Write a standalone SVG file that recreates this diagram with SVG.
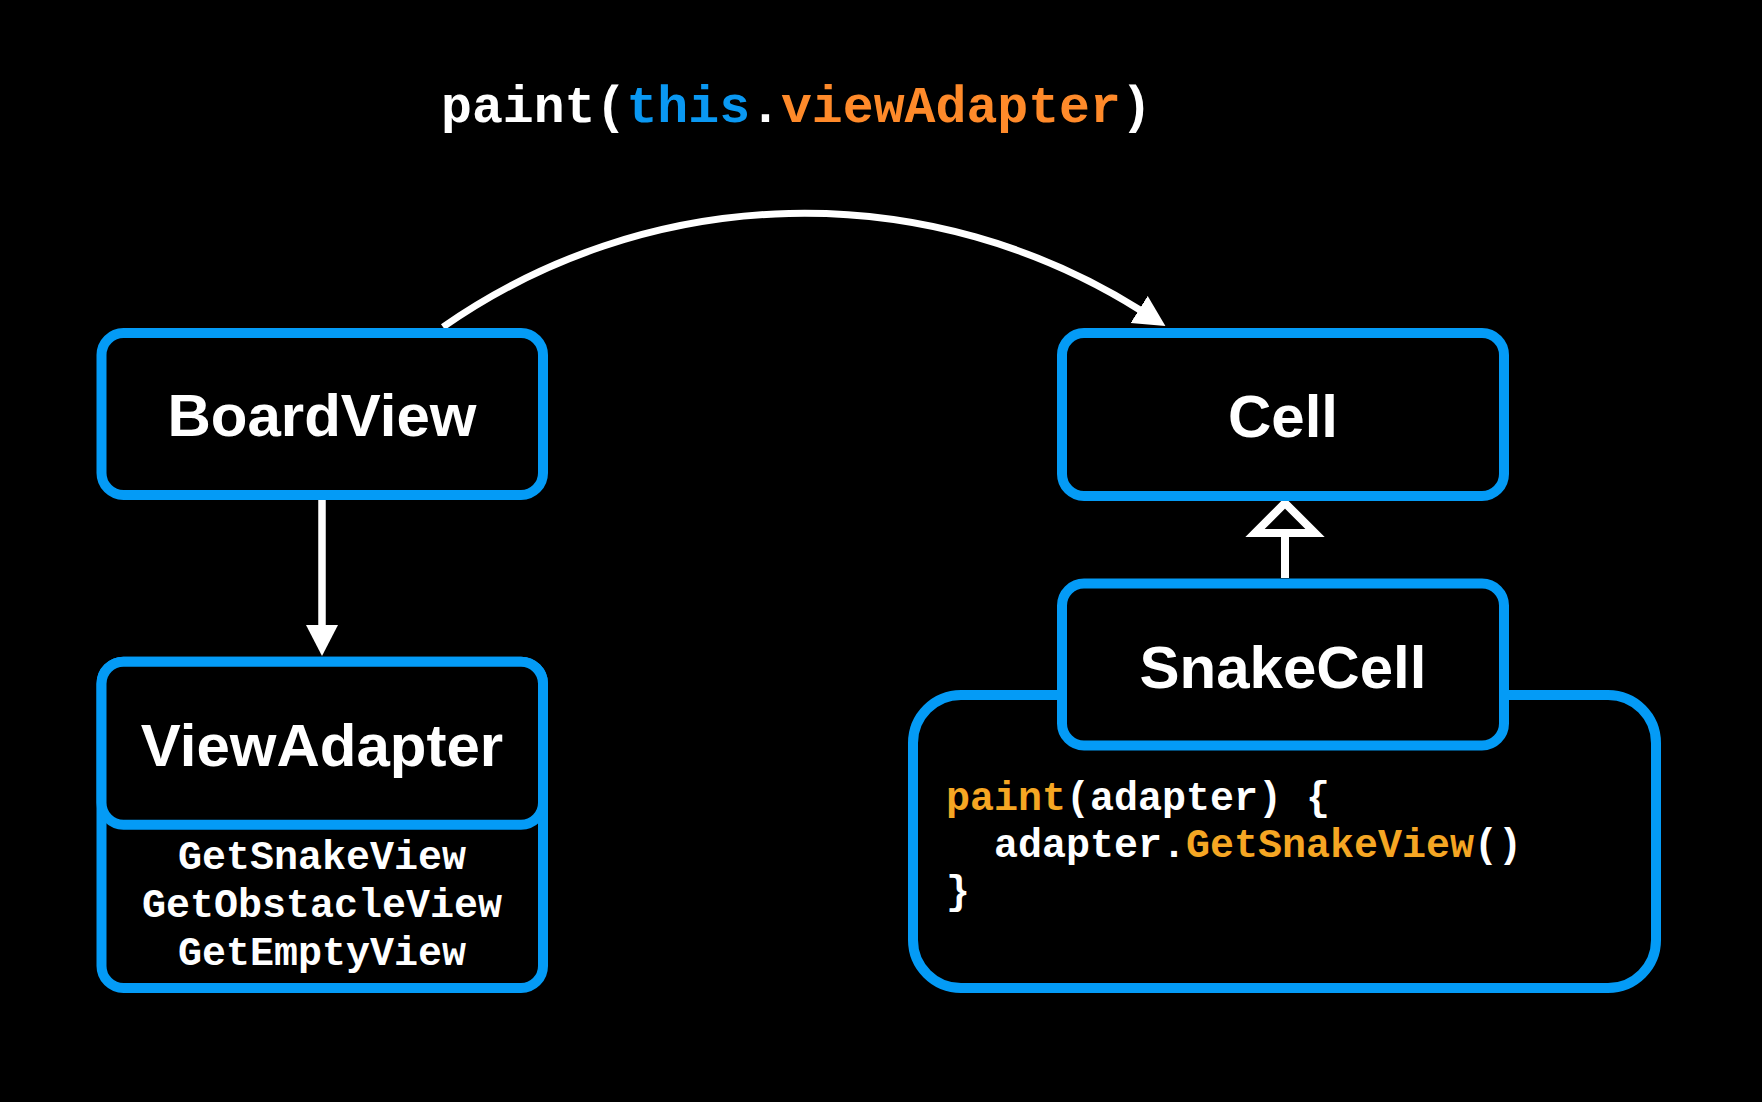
<svg xmlns="http://www.w3.org/2000/svg" width="1762" height="1102" viewBox="0 0 1762 1102">
<style>
.box{fill:#000;stroke:#049BF6;stroke-width:10}
.lbl{font-family:"Liberation Sans",Arial,sans-serif;font-weight:bold;font-size:60px;fill:#fff;text-anchor:middle}
.mono{font-family:"Liberation Mono","Courier New",monospace;font-weight:bold;fill:#fff}
.conn{fill:none;stroke:#fff}
.blue{fill:#0A98F2}
.org{fill:#FF8A2A}
.yel{fill:#F5A623}
</style>
<defs>
<marker id="arrow" markerUnits="userSpaceOnUse" markerWidth="33" markerHeight="33" refX="1" refY="16" orient="auto">
<path d="M0,0 L31,16 L0,32 z" fill="#fff"/>
</marker>
</defs>
<rect width="1762" height="1102" fill="#000"/>
<g id="title">
<text class="mono" x="441" y="122" font-size="51.5">paint(<tspan class="blue">this</tspan>.<tspan class="org">viewAdapter</tspan>)</text>
</g>
<g id="connectors">
<path class="conn" stroke-width="7" d="M443,327 A631,631 0 0,1 1140,310" marker-end="url(#arrow)"/>
<line class="conn" stroke-width="7.5" x1="322" y1="495" x2="322" y2="626" marker-end="url(#arrow)"/>
<line class="conn" stroke-width="8" x1="1285" y1="578" x2="1285" y2="533"/>
<polygon class="conn" stroke-width="8" points="1285,503 1315,533 1255,533"/>
</g>
<g id="BoardView">
<rect class="box" x="101.5" y="333" width="441.5" height="162" rx="22"/>
<text class="lbl" x="322" y="436">BoardView</text>
</g>
<g id="ViewAdapter">
<rect class="box" x="101.5" y="661.7" width="441.5" height="326.3" rx="22"/>
<rect class="box" x="101.5" y="661.7" width="441.5" height="163" rx="22"/>
<text class="lbl" x="322" y="765.5">ViewAdapter</text>
<text class="mono" font-size="40" text-anchor="middle" x="322" y="869">GetSnakeView</text>
<text class="mono" font-size="40" text-anchor="middle" x="322" y="917">GetObstacleView</text>
<text class="mono" font-size="40" text-anchor="middle" x="322" y="965">GetEmptyView</text>
</g>
<g id="Cell">
<rect class="box" x="1062" y="333" width="442" height="163" rx="22"/>
<text class="lbl" x="1283" y="437">Cell</text>
</g>
<g id="SnakeCellCode">
<rect class="box" x="913" y="695" width="743" height="293" rx="48"/>
<text class="mono" font-size="40" x="946" y="810"><tspan class="yel">paint</tspan>(adapter) {</text>
<text class="mono" font-size="40" x="994" y="857">adapter.<tspan class="yel">GetSnakeView</tspan>()</text>
<text class="mono" font-size="40" x="946" y="904">}</text>
</g>
<g id="SnakeCell">
<rect class="box" x="1062" y="583.5" width="442" height="162" rx="22"/>
<text class="lbl" x="1283" y="688">SnakeCell</text>
</g>
</svg>
